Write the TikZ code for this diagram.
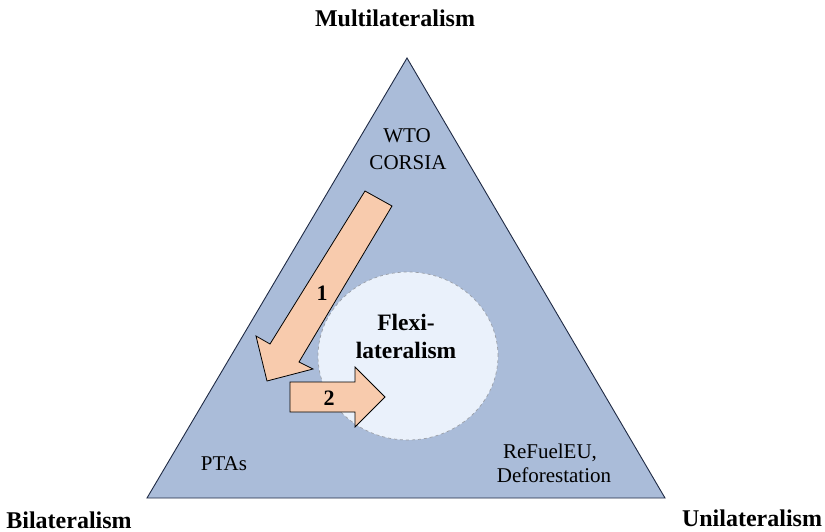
\documentclass[tikz,border=0pt]{standalone}
\usepackage{fontspec}
\usetikzlibrary{shapes.geometric}
\setmainfont{Liberation Serif}
\begin{document}
\begin{tikzpicture}[x=1pt,y=-1pt,
  lbl/.style={font=\fontsize{21}{24}\selectfont, inner sep=0pt, anchor=base},
  pole/.style={font=\fontsize{24}{28}\selectfont\bfseries, inner sep=0pt, anchor=base},
  core/.style={font=\fontsize{23.5}{28}\selectfont\bfseries, inner sep=0pt, anchor=base},
  num/.style={font=\fontsize{22}{26}\selectfont\bfseries, inner sep=0pt, anchor=base},
  blockarrow/.style={fill=arrowfill, draw=black, line width=0.8pt, line join=miter}]
\definecolor{trifill}{HTML}{AABCD9}
\definecolor{triedge}{HTML}{1F2A44}
\definecolor{corefill}{HTML}{EAF1FB}
\definecolor{coreedge}{HTML}{9A9FA8}
\definecolor{arrowfill}{HTML}{F8CBAD}
\useasboundingbox (0,0) rectangle (825,532);

% the triangle of the three poles
\coordinate (top) at (407,58);
\coordinate (bl) at (147,498);
\coordinate (br) at (665,498);
\filldraw[fill=trifill, draw=triedge, line width=0.9pt, line join=miter] (top) -- (br) -- (bl) -- cycle;

% flexilateral core
\node[ellipse, minimum width=180pt, minimum height=168pt, fill=corefill, draw=coreedge, dashed, line width=0.7pt] (corearea) at (408,356) {};
\node[core] (flex1) at (406,330) {Flexi-};
\node[core] (flex2) at (406,358) {lateralism};

% arrow 1: from multilateral forums towards the lower left
\filldraw[blockarrow] (365,191) -- (392,206) -- (299,362) -- (313,369) -- (267,381) -- (256,336) -- (270,344) -- cycle;
\node[num] (n1) at (322,300) {1};

% arrow 2: into the core
\filldraw[blockarrow] (290,382) -- (355,382) -- (355,367) -- (385,397) -- (355,427) -- (355,412) -- (290,412) -- cycle;
\node[num] (n2) at (329,405) {2};

% labels inside the triangle
\node[lbl] (wto) at (407,143) {WTO};
\node[lbl] (corsia) at (408,170) {CORSIA};
\node[lbl] (ptas) at (224,470) {PTAs};
\node[lbl] (refuel) at (550,458) {ReFuelEU,};
\node[lbl] (defor) at (554,482) {Deforestation};

% pole names
\node[pole] (multi) at (395,27) {Multilateralism};
\node[pole] (bi) at (69,528) {Bilateralism};
\node[pole] (uni) at (752,526) {Unilateralism};
\end{tikzpicture}
\end{document}
